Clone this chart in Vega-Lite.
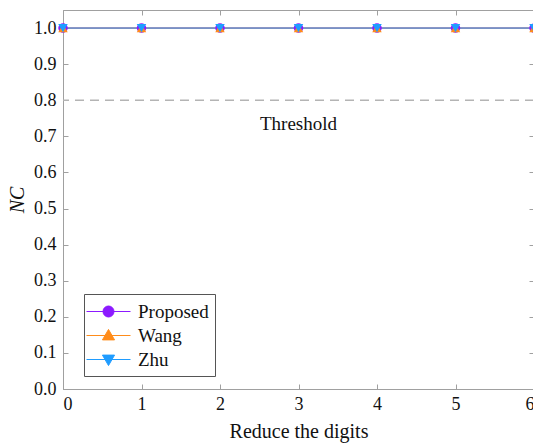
{
  "$schema": "https://vega.github.io/schema/vega-lite/v6.json",
  "width": 471,
  "height": 379,
  "autosize": {"type": "none"},
  "padding": {"left": 63, "top": 10, "right": 0, "bottom": 57},
  "background": "white",
  "config": {
    "font": "Liberation Serif",
    "view": {"stroke": "#a0a0a0", "strokeWidth": 1},
    "axis": {
      "domainColor": "#a0a0a0",
      "tickColor": "#a0a0a0",
      "tickSize": -5,
      "grid": false,
      "labelColor": "#111",
      "labelFontSize": 18,
      "titleFontSize": 20,
      "titleFontWeight": "normal",
      "titleColor": "#111"
    },
    "legend": {
      "orient": "none",
      "legendX": 21,
      "legendY": 284,
      "strokeColor": "#555",
      "fillColor": "white",
      "padding": 6,
      "symbolSize": 484,
      "symbolOffset": 7,
      "labelOffset": 18,
      "labelFontSize": 19,
      "labelColor": "#111",
      "rowPadding": 2,
      "symbolStrokeWidth": 1
    }
  },
  "datasets": {
    "series": [
      {"method": "Proposed", "digits": 0, "NC": 1.0},
      {"method": "Proposed", "digits": 1, "NC": 1.0},
      {"method": "Proposed", "digits": 2, "NC": 1.0},
      {"method": "Proposed", "digits": 3, "NC": 1.0},
      {"method": "Proposed", "digits": 4, "NC": 1.0},
      {"method": "Proposed", "digits": 5, "NC": 1.0},
      {"method": "Proposed", "digits": 6, "NC": 1.0},
      {"method": "Wang", "digits": 0, "NC": 1.0},
      {"method": "Wang", "digits": 1, "NC": 1.0},
      {"method": "Wang", "digits": 2, "NC": 1.0},
      {"method": "Wang", "digits": 3, "NC": 1.0},
      {"method": "Wang", "digits": 4, "NC": 1.0},
      {"method": "Wang", "digits": 5, "NC": 1.0},
      {"method": "Wang", "digits": 6, "NC": 1.0},
      {"method": "Zhu", "digits": 0, "NC": 1.0},
      {"method": "Zhu", "digits": 1, "NC": 1.0},
      {"method": "Zhu", "digits": 2, "NC": 1.0},
      {"method": "Zhu", "digits": 3, "NC": 1.0},
      {"method": "Zhu", "digits": 4, "NC": 1.0},
      {"method": "Zhu", "digits": 5, "NC": 1.0},
      {"method": "Zhu", "digits": 6, "NC": 1.0}
    ],
    "threshold": [{"NC": 0.8}],
    "label": [{"digits": 3, "NC": 0.735, "text": "Threshold"}]
  },
  "resolve": {"axis": {"x": "independent", "y": "independent"}},
  "layer": [
    {
      "data": {"name": "threshold"},
      "mark": {"type": "rule", "color": "#b4b4b4", "strokeWidth": 1.5, "strokeDash": [9, 6]},
      "encoding": {
        "y": {"field": "NC", "type": "quantitative", "scale": {"domain": [0, 1.05], "nice": false}, "axis": null}
      }
    },
    {
      "data": {"name": "label"},
      "mark": {"type": "text", "fontSize": 19, "color": "#111", "baseline": "middle"},
      "encoding": {
        "x": {"field": "digits", "type": "quantitative", "scale": {"domain": [0, 6], "nice": false}, "axis": null},
        "y": {"field": "NC", "type": "quantitative", "axis": null},
        "text": {"field": "text"}
      }
    },
    {
      "data": {"name": "series"},
      "mark": {"type": "line", "strokeWidth": 1},
      "encoding": {
        "x": {"field": "digits", "type": "quantitative", "axis": {"orient": "top", "labels": false, "title": null, "domain": false, "values": [0, 1, 2, 3, 4, 5, 6]}},
        "y": {"field": "NC", "type": "quantitative", "axis": {"orient": "right", "labels": false, "title": null, "domain": false, "values": [0, 0.1, 0.2, 0.3, 0.4, 0.5, 0.6, 0.7, 0.8, 0.9, 1.0]}},
        "color": {"field": "method", "type": "nominal", "title": null, "scale": {"domain": ["Proposed", "Wang", "Zhu"], "range": ["#8c1aff", "#ff8c1a", "#1f9cff"]}}
      }
    },
    {
      "data": {"name": "series"},
      "mark": {"type": "point", "filled": true, "opacity": 1, "size": 90},
      "encoding": {
        "x": {"field": "digits", "type": "quantitative", "title": "Reduce the digits", "axis": {"values": [0, 1, 2, 3, 4, 5, 6], "format": "d", "labelPadding": 11, "titlePadding": 8}},
        "y": {"field": "NC", "type": "quantitative", "title": "NC", "axis": {"values": [0, 0.1, 0.2, 0.3, 0.4, 0.5, 0.6, 0.7, 0.8, 0.9, 1.0], "format": ".1f", "labelPadding": 12, "titleFontStyle": "italic", "titlePadding": 6}},
        "shape": {"condition": [{"test": "datum.method === 'Wang'", "value": "triangle-up"}, {"test": "datum.method === 'Zhu'", "value": "triangle-down"}], "value": "circle"},
        "color": {"field": "method", "type": "nominal", "title": null}
      }
    },
    {
      "data": {"name": "series"},
      "transform": [{"filter": "false"}],
      "mark": {"type": "point", "filled": true, "opacity": 1, "strokeWidth": 1},
      "encoding": {
        "x": {"field": "digits", "type": "quantitative", "axis": null},
        "y": {"field": "NC", "type": "quantitative", "axis": null},
        "shape": {
          "field": "method", "type": "nominal", "title": null,
          "scale": {"domain": ["Proposed", "Wang", "Zhu"], "range": [
            "M-2,0H2M0.5,0A0.5,0.5,0,1,1,-0.5,0A0.5,0.5,0,1,1,0.5,0Z",
            "M-2,0H2M0,-0.55L0.55,0.4L-0.55,0.4Z",
            "M-2,0H2M0,0.55L0.55,-0.4L-0.55,-0.4Z"
          ]}
        },
        "fill": {"field": "method", "type": "nominal", "title": null, "scale": {"domain": ["Proposed", "Wang", "Zhu"], "range": ["#8c1aff", "#ff8c1a", "#1f9cff"]}},
        "stroke": {"field": "method", "type": "nominal", "title": null, "scale": {"domain": ["Proposed", "Wang", "Zhu"], "range": ["#8c1aff", "#ff8c1a", "#1f9cff"]}}
      }
    }
  ]
}
